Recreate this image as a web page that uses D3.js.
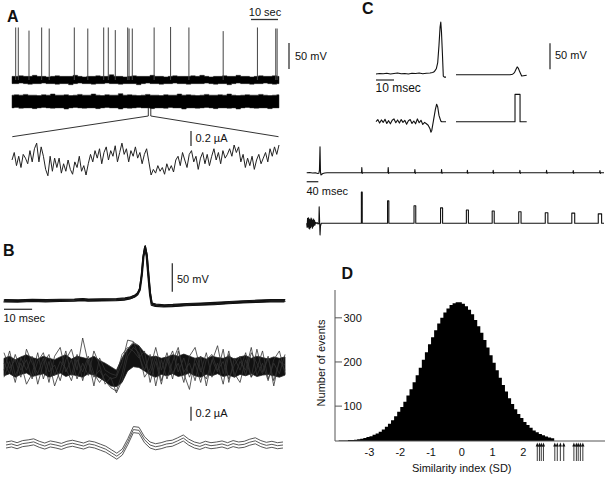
<!DOCTYPE html>
<html><head><meta charset="utf-8">
<script src="https://cdn.jsdelivr.net/npm/d3@7"></script>
<style>
body{margin:0;background:#fff}
svg{display:block}
text{font-family:Arial,"Liberation Sans",Helvetica,sans-serif;fill:#111}
</style>
</head><body>
<svg id="fig" width="608" height="478"></svg>
<script>
// ---------------- DATA ----------------
// Panel A: spike times (s) and amplitudes (mV) of the voltage record
const aSpikeTimes = [1.37,2.33,6.3,11.0,13.8,23.1,28.1,34.0,35.7,38.3,42.9,43.4,44.6,52.7,58.8,65.6,78.3,91.0,97.8,98.3];
const aSpikeAmps  = [101,101,95,101,99,101,99,101,101,96,101,99,99,101,102,101,94,101,99,99];
// Panel A: noise envelopes of voltage band (mV) and current band (nA)
const aVoltUpper = [7,7,8,7,7,9,7,7,6,7,8,7,7,7,9,7,6,7,7,8,7,7,10,7,7,6,7,8,7,7,7,9,7,7,6,7,8,7,7,7,8,7,9,7,6,7,7,8,7,7,9,7,7,6,7,8,7,7,8,7];
const aVoltLower = [-7,-7,-6,-7,-8,-7,-7,-6,-7,-7,-8,-7,-7,-9,-7,-6,-7,-7,-8,-7,-7,-6,-7,-7,-8,-7,-7,-7,-9,-7,-6,-7,-7,-8,-7,-7,-6,-7,-7,-8,-7,-7,-7,-6,-7,-8,-7,-7,-9,-7,-6,-7,-7,-8,-7,-7,-6,-7,-8,-7];
const aCurUpper = [85,90,85,95,85,85,80,90,85,100,85,85,90,80,85,95,85,85,100,85,80,90,85,85,105,85,90,85,80,85,95,85,85,80,90,85,85,100,85,90,85,80,85,95,85,85,90,85,100,85,80,85,90,85,85,95,85,80,85,90];
const aCurLower = [-85,-80,-90,-85,-85,-95,-85,-80,-85,-90,-85,-85,-100,-85,-80,-85,-90,-85,-85,-95,-85,-80,-85,-85,-100,-85,-90,-85,-80,-85,-85,-95,-85,-85,-90,-80,-85,-85,-100,-85,-85,-90,-85,-80,-85,-95,-85,-85,-90,-85,-100,-85,-80,-85,-90,-85,-85,-95,-85,-85];
// Panel A: expanded current segment (nA)
const aZoomCurrent = [0,100,-75,50,-100,75,25,-50,125,-25,150,225,-25,175,50,-125,-210,50,-150,25,
 -100,25,-175,-50,-150,0,-125,-190,-25,-100,50,-150,-75,-200,-50,
 75,-25,125,25,150,-50,100,175,0,125,50,190,-25,100,225,75,150,-25,125,50,175,
 25,100,-50,75,150,-25,
 -200,-125,-175,-75,-150,-100,-190,-50,-140,-75,-160,0,
 50,-75,100,0,-100,75,125,-25,50,-125,25,100,-50,75,-75,50,150,0,100,-50,125,25,75,
 150,50,200,100,175,
 -25,75,-100,25,-75,50,-125,0,75,-50,25,
 100,-25,150,50,175,75,200];

// Panel B: spike-triggered voltage waveform (ms, mV)
const bSpikeT = [0,5,10,15,20,25,28,30,35,40,43,45,46.5,47.5,48.3,49.0,49.6,50.2,50.8,51.4,52.0,52.6,54,57,60,65,70,75,80,85,90,95,100];
const bSpikeV = [0,-0.5,0.5,0,0.5,1,2,1,1.5,2,3,5,8,12,20,45,78,95,80,45,12,-6,-8,-9,-8.5,-7,-6,-5,-3.5,-2,-1,0,0];
const bTraceOffsets = [-2,-1,0,1,2];
const bTraceShifts  = [-0.2,0.2,0,-0.1,0.1];
// Panel B: individual current sweeps (nA), sampled every 2 ms
const bSweepUpper = [120,150,100,140,170,130,110,150,120,100,140,170,110,150,130,110,150,90,50,0,-50,125,250,330,300,200,140,150,120,140,170,150,180,150,120,140,110,150,130,120,150,110,140,160,120,150,130,110,140,120,140];
const bSweepLower = [-130,-100,-150,-110,-90,-140,-120,-100,-150,-120,-90,-140,-110,-130,-150,-100,-120,-160,-210,-275,-285,-225,-60,0,-10,-60,-120,-150,-110,-130,-100,-140,-120,-90,-130,-150,-110,-130,-100,-140,-120,-150,-110,-130,-100,-140,-120,-110,-130,-150,-120];
const bSweep1 = [50,-100,175,-50,100,-175,75,200,-75,25,-200,100,250,-50,410,50,-150,-50,-200,-300,-350,-100,250,350,300,50,-100,150,-200,50,225,-75,125,-150,50,-225,100,175,-50,75,-175,25,150,-125,200,50,-100,125,-200,75,25];
const bSweep2 = [-150,75,-225,125,-50,150,-250,50,175,-125,75,-25,-200,100,-75,150,-100,-225,-100,-175,-150,50,380,360,150,-50,175,-275,100,-175,75,275,-100,-325,125,-75,200,-150,50,-250,175,-100,-225,100,-150,250,-75,150,-275,100,-50];
const bSweep3 = [200,-25,100,-150,250,50,-100,125,-225,150,275,-75,100,-175,50,-125,225,25,-250,-150,-375,-200,150,275,200,-150,-25,275,-50,200,-100,50,-225,150,275,-50,-175,75,300,-100,225,-150,75,-50,275,-125,50,-200,100,225,-100];
const bSweep4 = [-50,225,-125,50,-250,-100,200,-175,75,-275,-50,225,-125,175,-200,100,-275,125,-50,-100,-125,175,275,225,125,225,-225,75,-250,125,-175,225,-75,50,-200,150,-275,100,-75,250,-225,125,-50,200,-150,-25,225,-175,50,-100,175];
// Panel B: average current (nA) every 2 ms and its SE
const bMeanCurrent = [0,15,-10,20,30,45,10,-15,15,0,-20,10,25,5,-15,15,0,-30,-60,-110,-160,-100,50,220,210,75,0,-25,-10,15,25,60,100,40,0,-20,10,-10,0,15,-10,20,0,10,40,60,20,-5,10,-10,0];
const bMeanSE = 43;

// Panel C: recorded spike (ms, mV) and model response
const cSpikeT = [0,2,4,6,8,10,12,14,16,18,20,22,24,26,28,30,31.5,32.5,33.5,34.3,35.0,35.6,36.0,36.4,36.9,37.4,38,38.9];
const cSpikeV = [0,1,0.5,1.5,0,1,2,0.5,1,0,1.5,1,2,0.5,1.5,2,3,5,10,22,55,90,100,80,40,-4,-6,-6];
const cModelT = [0,30,31.5,32.5,33.3,34,34.7,35.5,36.5,37.5,39.3];
const cModelV = [0,0,1,4,10,15,12,5,-2.5,-2,-1];
// Panel C: spike-triggered current (ms, nA) and stimulus pulse
const cCurT = [0,1,2,3,4,5,6,7,8,9,10,11,12,13,14,15,16,17,18,19,20,21,22,23,24,25,26,27,28,29,30,30.5,31,32,33,33.7,34.3,35,36,36.5,38.9];
const cCurV = [0,6,-4,5,-2,7,-5,3,-6,4,8,-3,5,-4,6,-2,4,-7,3,6,-5,2,-6,8,-3,4,-8,-2,-6,-10,-20,-30,-25,5,35,50,42,18,2,0,0];
const cPulseT = [0,32.8,32.8,35.6,35.6,39.3];
const cPulseV = [0,0,78,78,0,0];
// Panel C: pulse train (ms)
const cStimTimes  = [190,281,373,465,554,643,735,827,919,1011];
const cSpikeHeights = [10,10,6,6,4.5,4.5,4.5,4.5,4,4];
const cPulseHeights = [89,64,50,44,38,35,33,30,29,27];
const cPulseWidths  = [3,4.5,6,7,7,7,8,9,10,11.5];
const cLongSpikeT = [0,10,20,30,38,42,44,45.9,47.5,49,52,56,62,70];
const cLongSpikeV = [0,0.5,-0.5,0,-1.5,-1,5,50,2,-4.4,-3,-1.5,-0.5,0];
const cLongCurT = [0,1.5,3,4.5,6,7.5,9,10.5,12,13.5,15,16.5,18,19.5,21,22.5,24,25.5,27,28.5,30,33,36,39,42,43,44.5,46,47.5,50];
const cLongCurV = [0,-12,14,-10,16,-14,12,-16,10,-12,15,-8,12,-14,8,-10,12,-6,8,-5,3,0,2,-2,0,47,5,-33,-8,0];

// Panel D: histogram of similarity index (bins of 0.1 SD starting at -4.0)
const dBinStart = -4.0, dBinWidth = 0.1;
const dCounts = [22,22,22,23,23,24,25,26,28,30,32,35,38,42,47,53,60,68,77,87,98,110,124,138,154,170,187,205,222,240,256,272,287,300,312,321,329,333,335,335,332,326,318,308,295,281,266,250,233,215,198,181,164,148,133,118,105,93,82,73,64,57,51,45,41,37,34,31,29,27];
const dArrows = [2.45,2.52,2.58,2.65,3.02,3.10,3.20,3.31,3.64,3.72,3.78,3.85,3.93];
const dXTicks = [-3,-2,-1,0,1,2];
const dYTicks = [100,200,300];

// ---------------- DRAW ----------------
const svg = d3.select("#fig");
const INK = "#111";

function trace(g, xs, ys, sx, sy, stroke, width){
  const pts = xs.map((x,i)=>[sx(x), sy(ys[i])]);
  g.append("path").attr("d", d3.line()(pts)).attr("fill","none")
    .attr("stroke", stroke||INK).attr("stroke-width", width||1).attr("stroke-linejoin","round");
}
function hbar(x1,x2,y){ svg.append("line").attr("x1",x1).attr("x2",x2).attr("y1",y).attr("y2",y).attr("stroke","#333").attr("stroke-width",1.3); }
function vbar(x,y1,y2){ svg.append("line").attr("x1",x).attr("x2",x).attr("y1",y1).attr("y2",y2).attr("stroke","#333").attr("stroke-width",1.3); }
function label(x,y,t,opts={}){
  const el = svg.append("text").attr("x",x).attr("y",y).text(t)
    .attr("font-size", opts.size||11).attr("text-anchor", opts.anchor||"start");
  if(opts.bold) el.attr("font-weight","bold");
  if(opts.rotate) el.attr("transform",`rotate(-90,${x},${y})`);
  return el;
}

// ===== Panel A =====
label(7,22,"A",{size:16,bold:true});
const aT = d3.scaleLinear().domain([0,99]).range([12,279]);
const aV = d3.scaleLinear().domain([0,50]).range([80,54]);
const aI = d3.scaleLinear().domain([0,200]).range([101.5,86.5]);
const gA = svg.append("g");
const bandX = d3.scaleLinear().domain([0,aVoltUpper.length-1]).range([12,279]);
gA.append("path").attr("d", d3.area().curve(d3.curveStep).x((d,i)=>bandX(i)).y0((d,i)=>aV(aVoltLower[i])).y1(d=>aV(d))(aVoltUpper))
  .attr("fill","#000").attr("stroke","#222").attr("stroke-width",0.5);
aSpikeTimes.forEach((t,i)=>{
  gA.append("line").attr("x1",aT(t)).attr("x2",aT(t)).attr("y1",aV(0)).attr("y2",aV(aSpikeAmps[i]))
    .attr("stroke","#444").attr("stroke-width",1);
});
const bandX2 = d3.scaleLinear().domain([0,aCurUpper.length-1]).range([12,279]);
gA.append("path").attr("d", d3.area().curve(d3.curveStep).x((d,i)=>bandX2(i)).y0((d,i)=>aI(aCurLower[i])).y1(d=>aI(d))(aCurUpper))
  .attr("fill","#000").attr("stroke","#222").attr("stroke-width",0.5);
// zoom marker and expansion lines
gA.append("line").attr("x1",148.3).attr("x2",148.3).attr("y1",108).attr("y2",116).attr("stroke","#333");
gA.append("line").attr("x1",150.8).attr("x2",150.8).attr("y1",108).attr("y2",116).attr("stroke","#333");
gA.append("line").attr("x1",148.3).attr("x2",12.3).attr("y1",116).attr("y2",136.7).attr("stroke","#333");
gA.append("line").attr("x1",150.8).attr("x2",278.5).attr("y1",116).attr("y2",136.7).attr("stroke","#333");
const aZx = d3.scaleLinear().domain([0,aZoomCurrent.length-1]).range([12,279]);
const aZy = d3.scaleLinear().domain([0,200]).range([160,145]);
trace(gA, aZoomCurrent.map((d,i)=>i), aZoomCurrent, aZx, aZy, "#222", 1);
// scale bars
hbar(251, 251+(aT(10)-aT(0)), 19.5); label(265,15.5,"10 sec",{anchor:"middle"});
vbar(289, 69, 69-(aV(0)-aV(50))); label(295,60,"50 mV");
vbar(191, 146, 146-(aI(0)-aI(200))); label(195.5,141.5,"0.2 \u00b5A");

// ===== Panel B =====
label(3,256,"B",{size:16,bold:true});
const bT = d3.scaleLinear().domain([0,100]).range([4,285]);
const bV = d3.scaleLinear().domain([0,50]).range([300.7,272.3]);
const gB = svg.append("g");
bTraceOffsets.forEach((o,k)=>{
  trace(gB, bSpikeT.map(t=>t+bTraceShifts[k]), bSpikeV.map(v=>v+o), bT, bV, "#111", 1.1);
});
const bMid = d3.scaleLinear().domain([0,200]).range([366.7,352.7]);
const sweepT = bSweepUpper.map((d,i)=>i*2);
gB.append("path").attr("d", d3.area().x((d,i)=>bT(sweepT[i])).y0((d,i)=>bMid(bSweepLower[i])).y1(d=>bMid(d))(bSweepUpper))
  .attr("fill","#111").attr("stroke","#222").attr("stroke-width",0.8);
[bSweep1,bSweep2,bSweep3,bSweep4].forEach(s=>trace(gB, s.map((d,i)=>i*2), s, bT, bMid, "#333", 0.8));
const bBot = d3.scaleLinear().domain([0,200]).range([445,431]);
const meanT = bMeanCurrent.map((d,i)=>i*2);
const bBx = d3.scaleLinear().domain([0,100]).range([6,283]);
trace(gB, meanT, bMeanCurrent.map(v=>v+bMeanSE), bBx, bBot, "#444", 0.9);
trace(gB, meanT, bMeanCurrent, bBx, bBot, "#444", 0.9);
trace(gB, meanT, bMeanCurrent.map(v=>v-bMeanSE), bBx, bBot, "#444", 0.9);
vbar(172.3, 291.7, 291.7-(bV(0)-bV(50))); label(177,282.7,"50 mV");
hbar(bT(0), bT(10), 309.3); label(3.5,321.7,"10 msec");
vbar(191, 420.7, 420.7-(bBot(0)-bBot(200))); label(195.5,416.5,"0.2 \u00b5A");

// ===== Panel C =====
label(362,14,"C",{size:16,bold:true});
const gC = svg.append("g");
const cTl = d3.scaleLinear().domain([0,38.9]).range([376,446]);
const cTr = d3.scaleLinear().domain([0,39.3]).range([456,526.7]);
const cVl = d3.scaleLinear().domain([0,50]).range([74,48]);
const cVr = d3.scaleLinear().domain([0,50]).range([74.7,48.7]);
trace(gC, cSpikeT, cSpikeV, cTl, cVl, "#111", 1.1);
trace(gC, cModelT, cModelV, cTr, cVr, "#111", 1.1);
const cIl = d3.scaleLinear().domain([0,100]).range([121.7,86.7]);
trace(gC, cCurT, cCurV, cTl, cIl, "#111", 1.1);
trace(gC, cPulseT, cPulseV, cTr, cIl, "#111", 1.1);
vbar(550, 69.3, 69.3-(cVl(0)-cVl(50))); label(555,59,"50 mV");
hbar(cTl(0), cTl(10), 80); label(375.5,92,"10 msec",{size:12});
// long records
const cLT = d3.scaleLinear().domain([0,1025]).range([306.7,604]);
const cLV = d3.scaleLinear().domain([0,50]).range([172.7,146.7]);
const cLI = d3.scaleLinear().domain([0,100]).range([223.3,188.3]);
let vT = cLongSpikeT.slice(), vV = cLongSpikeV.slice();
cStimTimes.forEach((t,i)=>{ vT.push(t-1,t,t+1.5,t+4); vV.push(0,cSpikeHeights[i],-1.5,0); });
vT.push(1025); vV.push(0);
trace(gC, vT, vV, cLT, cLV, "#111", 1.1);
let iT = cLongCurT.slice(), iV = cLongCurV.slice();
cStimTimes.forEach((t,i)=>{ const w=cPulseWidths[i]/2; iT.push(t-w,t-w,t+w,t+w); iV.push(0,cPulseHeights[i],cPulseHeights[i],0); });
iT.push(1025); iV.push(0);
trace(gC, iT, iV, cLT, cLI, "#111", 1.1);
hbar(cLT(0), cLT(40), 181.7); label(306.5,195,"40 msec");

// ===== Panel D =====
label(341.5,279,"D",{size:16,bold:true});
const dx = d3.scaleLinear().domain([-4.12,4.65]).range([335,605]);
const dy = d3.scaleLinear().domain([21,363]).range([441,290]);
const gD = svg.append("g");
const edges = dCounts.map((c,i)=>dBinStart+i*dBinWidth).concat([dBinStart+dCounts.length*dBinWidth]);
const stepVals = dCounts.concat([dCounts[dCounts.length-1]]);
gD.append("path")
  .attr("d", d3.area().curve(d3.curveStepAfter).x((d,i)=>dx(edges[i])).y0(dy(21)).y1(d=>dy(d))(stepVals))
  .attr("fill","#000");
gD.append("line").attr("x1",335).attr("x2",335).attr("y1",dy(363)).attr("y2",dy(21)).attr("stroke","#555").attr("stroke-width",1);
gD.append("line").attr("x1",335).attr("x2",605).attr("y1",dy(21)).attr("y2",dy(21)).attr("stroke","#555").attr("stroke-width",1);
dYTicks.forEach(v=>{
  gD.append("line").attr("x1",335).attr("x2",342).attr("y1",dy(v)).attr("y2",dy(v)).attr("stroke","#555");
  label(343.5, dy(v)+4, String(v));
});
dXTicks.forEach(v=>{ label(dx(v), 456, v<0?"-"+Math.abs(v):String(v), {anchor:"middle"}); });
label(461.7,471.5,"Similarity index (SD)",{anchor:"middle"});
label(324.5,363,"Number of events",{anchor:"middle",rotate:true});
dArrows.forEach(v=>{
  const x = dx(v);
  gD.append("line").attr("x1",x).attr("x2",x).attr("y1",445).attr("y2",461).attr("stroke","#222").attr("stroke-width",0.9);
  gD.append("path").attr("d",`M${x-1.6},446.5L${x+1.6},446.5L${x},442.5Z`).attr("fill","#111");
});
</script>
</body></html>
